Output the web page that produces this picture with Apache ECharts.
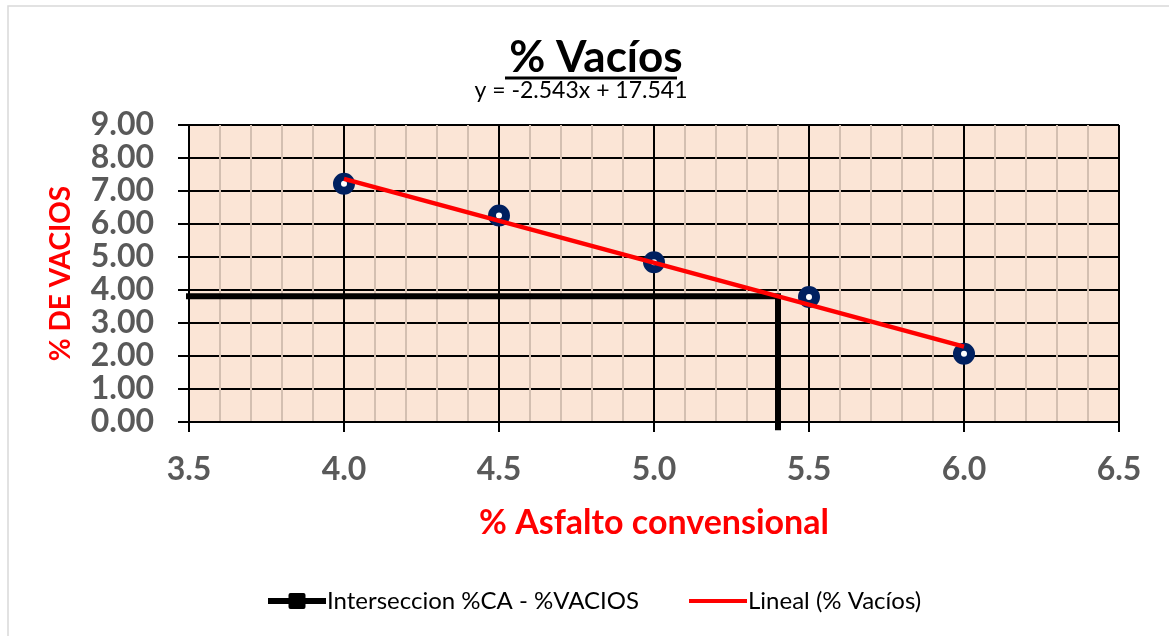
<!DOCTYPE html>
<html>
<head>
<meta charset="utf-8">
<script src="https://cdn.jsdelivr.net/npm/echarts@6/dist/echarts.min.js"></script>
<style>
html,body{margin:0;padding:0;background:#fff;}
#chart{width:1169px;height:636px;}
</style>
</head>
<body>
<div id="chart"></div>
<script>
// ---- data ----
var asphaltPct = [4.0, 4.5, 5.0, 5.5, 6.0];
var voidsPct = [7.22, 6.26, 4.84, 3.79, 2.07];
var trendX = [4.0, 6.0];
var trendY = [7.369, 2.283];
var intersectX = [3.45, 5.40, 5.40];
var intersectY = [3.81, 3.81, -0.25];
var yTickLabels = ['0.00','1.00','2.00','3.00','4.00','5.00','6.00','7.00','8.00','9.00'];
var titleText = '% Vacíos';
var equationText = 'y = -2.543x + 17.541';
var xName = '% Asfalto convensional';
var yName = '% DE VACIOS';
var legendNames = ['Interseccion %CA - %VACIOS', 'Lineal (% Vacíos)'];

function pairs(xs, ys){ return xs.map(function(x,i){ return [x, ys[i]]; }); }

var chart = echarts.init(document.getElementById('chart'), null, {renderer:'canvas'});
var FONT = 'Lato';
var option = {
  backgroundColor: '#ffffff',
  animation: false,
  title: [
    { text: titleText, left: 591, top: 31, textAlign: 'center',
      textStyle: { fontFamily: FONT, fontWeight: 'bold', fontSize: 44, color: '#000' } },
    { text: equationText, left: 576, top: 74, textAlign: 'center',
      textStyle: { fontFamily: FONT, fontWeight: 'normal', fontSize: 23, color: '#000' } }
  ],
  graphic: [
    { type: 'rect', shape: { x: 8, y: 6, width: 1180, height: 660 }, silent: true,
      style: { fill: 'none', stroke: '#D9D9D9', lineWidth: 1.5 }, z: -10 },
    { type: 'line', shape: { x1: 505, y1: 78, x2: 677, y2: 78 },
      style: { stroke: '#000', lineWidth: 3 }, z: 10 }
  ],
  legend: {
    bottom: 18, left: 263,
    itemWidth: 58, itemHeight: 16, itemGap: 50,
    textStyle: { fontFamily: FONT, fontSize: 24, color: '#000', padding: [0,0,0,-4] },
    data: [
      { name: legendNames[0], icon: 'path://M0,5H58V11H0Z M20.5,2Q20.5,0 22.5,0H35.5Q37.5,0 37.5,2V14Q37.5,16 35.5,16H22.5Q20.5,16 20.5,14Z',
        itemStyle: { color: '#000' } },
      { name: legendNames[1], icon: 'path://M0,0H56V4H0Z', itemStyle: { color: '#FF0000' } }
    ]
  },
  grid: {
    left: 189, right: 50, top: 125, bottom: 214,
    show: true, backgroundColor: '#FBE5D6', borderWidth: 0
  },
  xAxis: {
    type: 'value', min: 3.5, max: 6.5, interval: 0.5,
    name: xName, nameLocation: 'middle', nameGap: 84,
    nameTextStyle: { fontFamily: FONT, fontWeight: 'bold', fontSize: 34, color: '#FF0000' },
    axisLine: { show: true, onZero: false, lineStyle: { color: '#000', width: 2 } },
    axisTick: { show: true, inside: false, length: 10, lineStyle: { color: '#000', width: 2 } },
    axisLabel: { fontFamily: FONT, fontWeight: 'bold', fontSize: 32, color: '#595959', margin: 32,
      formatter: function(v){ return v.toFixed(1); } },
    splitLine: { show: true, lineStyle: { color: '#000', width: 2 } },
    minorTick: { show: false, splitNumber: 5 },
    minorSplitLine: { show: true, lineStyle: { color: '#D3BFB1', width: 2 } }
  },
  yAxis: {
    type: 'value', min: 0, max: 9, interval: 1,
    name: yName, nameLocation: 'middle', nameGap: 114, nameRotate: 90,
    nameTextStyle: { fontFamily: FONT, fontWeight: 'bold', fontSize: 28, color: '#FF0000' },
    axisLine: { show: true, onZero: false, lineStyle: { color: '#000', width: 2 } },
    axisTick: { show: true, inside: false, length: 11, lineStyle: { color: '#000', width: 2 } },
    axisLabel: { fontFamily: FONT, fontWeight: 'bold', fontSize: 32, color: '#595959', margin: 35,
      formatter: function(v){ return yTickLabels[Math.round(v)]; } },
    splitLine: { show: true, lineStyle: { color: '#000', width: 2 } }
  },
  series: [
    { name: legendNames[0], type: 'line', data: pairs(intersectX, intersectY),
      showSymbol: false, symbol: 'none', clip: false, z: 3,
      lineStyle: { color: '#000', width: 6, cap: 'butt', join: 'miter' }, itemStyle: { color: '#000' } },
    { name: '% Vacíos', type: 'scatter', data: pairs(asphaltPct, voidsPct),
      symbol: 'circle', symbolSize: 14, z: 3,
      itemStyle: { color: '#ffffff', borderColor: '#002060', borderWidth: 8, opacity: 1 } },
    { name: legendNames[1], type: 'line', data: pairs(trendX, trendY),
      showSymbol: false, symbol: 'none', z: 4,
      lineStyle: { color: '#FF0000', width: 4.5 }, itemStyle: { color: '#FF0000' } }
  ]
};
chart.setOption(option);
</script>
</body>
</html>
